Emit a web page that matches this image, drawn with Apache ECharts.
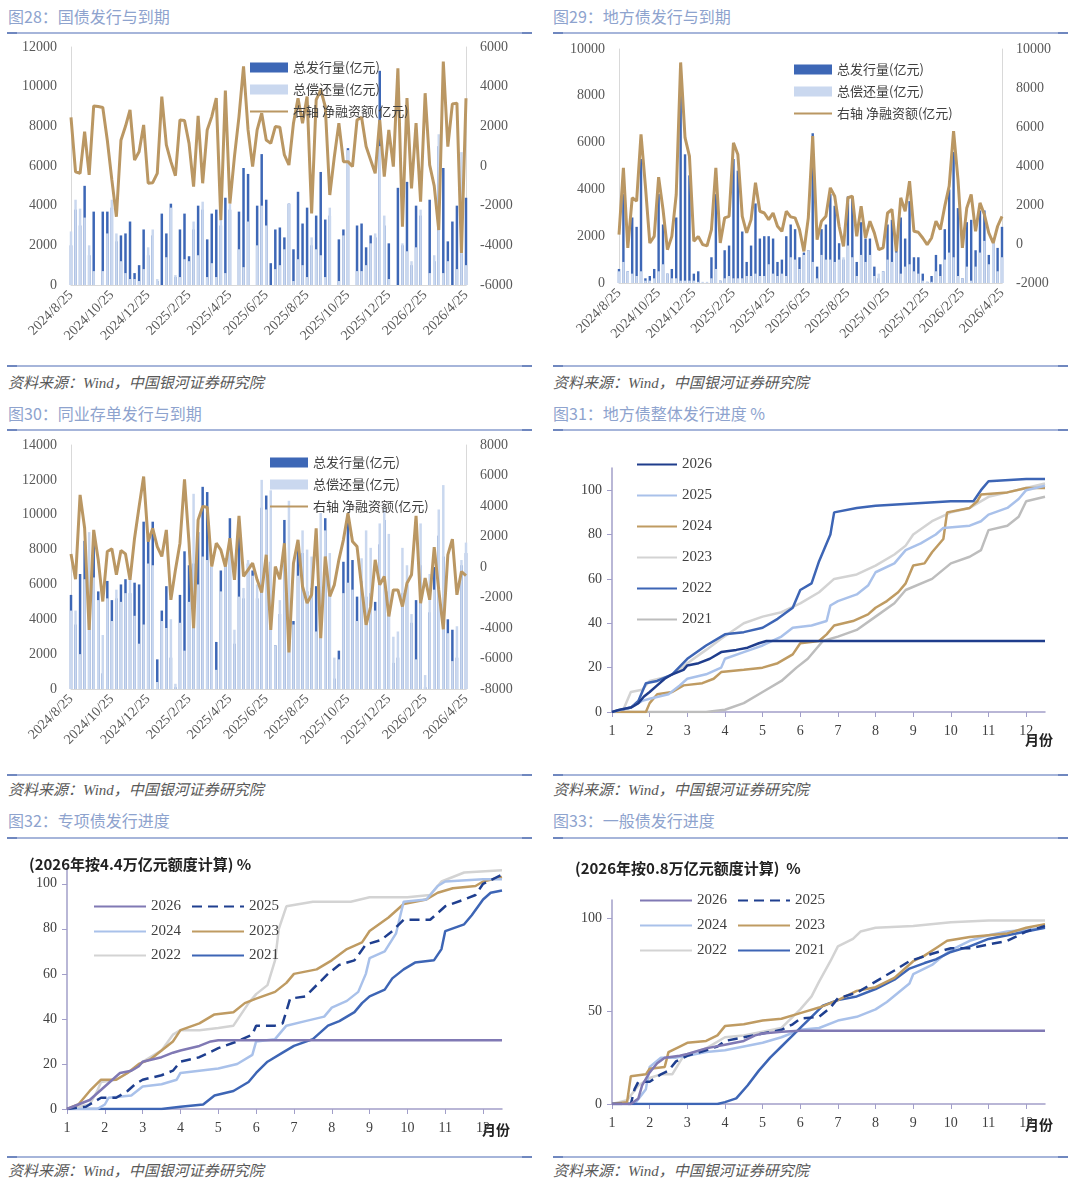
<!DOCTYPE html>
<html>
<head>
<meta charset="utf-8">
<script src="https://cdn.jsdelivr.net/npm/echarts@6/dist/echarts.min.js"></script>
<style>
body { margin: 0; width: 1080px; height: 1186px; background: #fff; position: relative; overflow: hidden; font-family: "Noto Sans CJK SC", sans-serif; }
.chart { position: absolute; left: 0; top: 0; width: 1080px; height: 1186px; }
.title { position: absolute; font-size: 16px; line-height: 20px; color: #8EA3CE; white-space: nowrap; }
.src { position: absolute; font-size: 15px; line-height: 18px; color: #595959; font-style: italic; white-space: nowrap; font-family: "Liberation Serif", "Noto Sans CJK SC", serif; }
.rule { position: absolute; height: 2px; background: #A6B5DA; }
.rule:before, .rule:after { content: ""; position: absolute; top: 0; width: 10px; height: 2px; background: #6F87BF; }
.rule:before { left: 0; }
.rule:after { right: 0; }
</style>
</head>
<body>
<div class="title" style="left:8px;top:6px">图28：国债发行与到期</div>
<div class="title" style="left:553px;top:6px">图29：地方债发行与到期</div>
<div class="rule" style="left:7px;top:32px;width:525px"></div>
<div class="rule" style="left:553px;top:32px;width:515px"></div>
<div class="rule" style="left:7px;top:365px;width:525px"></div>
<div class="rule" style="left:553px;top:365px;width:515px"></div>
<div class="src" style="left:8px;top:374px">资料来源：Wind，中国银河证券研究院</div>
<div class="src" style="left:553px;top:374px">资料来源：Wind，中国银河证券研究院</div>
<div class="title" style="left:8px;top:403px">图30：同业存单发行与到期</div>
<div class="title" style="left:553px;top:403px">图31：地方债整体发行进度 %</div>
<div class="rule" style="left:7px;top:429px;width:525px"></div>
<div class="rule" style="left:553px;top:429px;width:515px"></div>
<div class="rule" style="left:7px;top:774px;width:525px"></div>
<div class="rule" style="left:553px;top:774px;width:515px"></div>
<div class="src" style="left:8px;top:781px">资料来源：Wind，中国银河证券研究院</div>
<div class="src" style="left:553px;top:781px">资料来源：Wind，中国银河证券研究院</div>
<div class="title" style="left:8px;top:810px">图32：专项债发行进度</div>
<div class="title" style="left:553px;top:810px">图33：一般债发行进度</div>
<div class="rule" style="left:7px;top:837px;width:525px"></div>
<div class="rule" style="left:553px;top:837px;width:515px"></div>
<div class="rule" style="left:7px;top:1156px;width:525px"></div>
<div class="rule" style="left:553px;top:1156px;width:515px"></div>
<div class="src" style="left:8px;top:1162px">资料来源：Wind，中国银河证券研究院</div>
<div class="src" style="left:553px;top:1162px">资料来源：Wind，中国银河证券研究院</div>

<div id="c28" class="chart"></div>
<div id="c29" class="chart"></div>
<div id="c30" class="chart"></div>
<div id="c31" class="chart"></div>
<div id="c32" class="chart"></div>
<div id="c33" class="chart"></div>
<script>
// 周度日期（横轴类目），2024/8/25 起共 88 周
const weeks = []
const startDay = new Date(2024, 7, 25)
for (let i = 0; i < 88; i++) {
  const d = new Date(startDay.getTime() + i * 7 * 864e5)
  weeks.push(d.getFullYear() + '/' + (d.getMonth() + 1) + '/' + d.getDate())
}
const tickLabels = ['2024/8/25', '2024/10/25', '2024/12/25', '2025/2/25', '2025/4/25', '2025/6/25',
  '2025/8/25', '2025/10/25', '2025/12/25', '2026/2/25', '2026/4/25']
const tickIdx = tickLabels.map(s => {
  const p = s.split('/')
  const d = new Date(+p[0], +p[1] - 1, +p[2])
  return Math.round((d - startDay) / (7 * 864e5))
})

// 图28 国债
const issue28 = [2000, 3800, 3000, 5000, 1500, 3700, 0, 3700, 3700, 3900,
  2200, 2500, 2600, 3200, 600, 1000, 2800, 1500, 2500, 200,
  3600, 2600, 4100, 400, 2800, 3600, 1450, 2800, 4000, 3800,
  2300, 3600, 3800, 3000, 4400, 3800, 0, 3700, 5900, 5600,
  0, 4000, 6600, 4300, 1100, 2800, 2900, 2400, 4100, 1800,
  4700, 3100, 3900, 2000, 3500, 5700, 3300, 3500, 0, 2300,
  2800, 6900, 0, 3000, 3100, 1900, 2500, 2400, 10800, 3000,
  2100, 0, 4900, 2000, 5200, 1000, 4000, 3500, 0, 4300,
  1200, 7000, 5900, 2200, 3200, 4000, 1600, 4400]
const repay28 = [2700, 4300, 3850, 3400, 2000, 700, 0, 700, 2600, 4300,
  2600, 1200, 600, 300, 300, 200, 800, 1900, 2800, 300,
  0, 1400, 3900, 500, 400, 1300, 1200, 3200, 1500, 4200,
  400, 1100, 400, 3300, 600, 4100, 0, 1800, 900, 3200,
  0, 2000, 4000, 3000, 0, 800, 1000, 1800, 4100, 200,
  1300, 1000, 400, 2400, 1800, 1500, 400, 3900, 0, 200,
  2500, 6800, 0, 700, 700, 1000, 2100, 2600, 7000, 3500,
  300, 0, 0, 2100, 1700, 1200, 1900, 3800, 0, 600,
  1500, 7600, 600, 1200, 0, 800, 6700, 1000]
const net28 = [2450, -290, -370, 1730, -450, 3030, 3000, 2950, 1300, -700,
  -2560, 1300, 2000, 2830, 300, 720, 2070, -870, -840, -370,
  3500, 1060, 220, -490, 2320, 2290, 1140, -1040, 2530, -870,
  1820, 2490, 3420, -2730, 3800, -1890, 470, 2490, 5020, 1820,
  -30, 1820, 2660, 1310, 1140, 1990, 1950, 560, 50, 2160,
  3420, 2160, 3500, -2390, 3330, 3840, 3000, -1460, 470, 2160,
  220, 220, -30, 2320, 2460, 980, 300, -370, 2320, -540,
  1820, -30, 4930, -3060, 3420, -1130, 2160, -1800, 3670, 50,
  -1000, -3230, 5270, 980, 3130, 3170, -4380, 3420]

// 图29 地方债
const issue29 = [600, 3800, 500, 2800, 2400, 5300, 200, 300, 600, 3800,
  2500, 400, 600, 2800, 8000, 5500, 4600, 400, 500, 0,
  0, 1100, 3800, 100, 1400, 1600, 5300, 4800, 2200, 900,
  1600, 3400, 1900, 2000, 2000, 1900, 900, 1000, 2000, 2500,
  2300, 1100, 1300, 1400, 6400, 700, 2300, 2500, 3800, 3300,
  1700, 1000, 3700, 3600, 900, 2600, 1900, 1900, 700, 200,
  500, 2500, 2700, 1400, 2800, 1900, 3500, 1100, 1100, 400,
  50, 300, 1200, 800, 2300, 4000, 5600, 3200, 200, 2600,
  2700, 1400, 3100, 3100, 1200, 1700, 1500, 2400]
const repay29 = [500, 900, 500, 400, 300, 500, 100, 100, 200, 500,
  800, 400, 200, 200, 100, 100, 100, 100, 50, 50,
  50, 200, 600, 100, 200, 300, 200, 200, 200, 300,
  300, 400, 300, 300, 800, 400, 300, 400, 300, 1100,
  1000, 600, 1200, 1400, 900, 200, 1200, 1000, 1000, 900,
  1000, 1100, 1600, 1100, 300, 1200, 900, 1200, 300, 400,
  500, 1000, 900, 1300, 400, 700, 800, 500, 400, 100,
  50, 50, 500, 300, 1000, 1300, 1100, 300, 200, 700,
  100, 700, 1300, 1800, 800, 1800, 500, 1100]
const net29 = [480, 3910, -200, 2370, 2200, 5620, 2970, 50, 390, 3430,
  1770, -290, 390, 2540, 9310, 5450, 4510, 140, 390, -30,
  -90, 740, 3910, 50, 1340, 1420, 5190, 4590, 1420, 570,
  1250, 3140, 1680, 1590, 1250, 1590, 910, 650, 1680, 1390,
  1340, 740, -380, 1340, 5540, 220, 1170, 1420, 2880, 2450,
  910, -120, 2370, 2450, 390, 1940, 310, 1170, 570, -290,
  -200, 1590, 1770, -380, 2370, 1680, 3220, 650, 600, 310,
  -30, 310, 1170, 740, 1940, 2970, 5790, 3310, -200, 1850,
  2540, 650, 2110, 1510, 570, 50, 910, 1420]

// 图30 同业存单
const issue30 = [5400, 3700, 6600, 8500, 4900, 8800, 5600, 900, 6200, 5100,
  5200, 6000, 6300, 5500, 6100, 6000, 9600, 8800, 9600, 1700,
  4500, 5900, 1800, 100, 5400, 7900, 7100, 7200, 9000, 11600,
  11300, 7000, 2700, 6800, 7500, 9800, 2600, 8800, 5200, 7200,
  6800, 5200, 10400, 11100, 7300, 2500, 4300, 9700, 5200, 3900,
  8300, 7800, 5600, 5800, 5900, 5500, 9800, 5900, 600, 2200,
  7300, 9600, 7400, 5300, 6200, 5300, 5500, 5000, 8300, 9700,
  5600, 1500, 1800, 5500, 6000, 3800, 5100, 7100, 100, 4400,
  7000, 8800, 7600, 4000, 3400, 1800, 7100, 7800]
const repay30 = [4500, 4500, 2000, 6300, 9000, 6400, 5100, 3100, 5200, 3900,
  5700, 5000, 5500, 6300, 4200, 2600, 3700, 7200, 7100, 400,
  3900, 3500, 4000, 300, 3800, 2200, 5000, 11200, 6000, 7600,
  7400, 7000, 1100, 5600, 7500, 8000, 3400, 5300, 5800, 7400,
  6500, 6000, 12000, 10300, 11400, 2500, 5100, 8100, 10800, 3700,
  6500, 9100, 8000, 7600, 3300, 10100, 9100, 7800, 1800, 1700,
  5500, 6100, 5700, 3900, 7500, 9100, 8100, 4500, 9500, 10300,
  8900, 3000, 3300, 8100, 7100, 4300, 1700, 9500, 800, 6600,
  5700, 10300, 11700, 3200, 1600, 3600, 7400, 8400]
const net30 = [850, -800, 4730, 2560, -4120, 2430, 470, -2260, 1020, 1190,
  -510, 1080, 860, -840, 1890, 3960, 5930, 1670, 2540, 1340,
  690, 2430, -2150, -190, 1560, 5750, 1560, -4010, 3090, 3960,
  3920, 30, 1560, 1120, 30, 1890, -840, 3350, -620, -190,
  250, -840, -1670, 800, -4120, 30, -800, 1560, -5600, 250,
  1780, -1280, -2370, -1820, 2540, -4660, 690, -1930, -1170, 470,
  1780, 3530, 1670, 1340, -1280, -3790, -2590, 470, -1170, -620,
  -3240, -1500, -1500, -2590, -1060, -510, 3350, -2370, -730, -2150,
  1300, -1500, -4080, 800, 1820, -1820, -300, -560]

// 图31 地方债整体发行进度（月份, %）
const p31_2026 = [[1, 0], [1.2, 1], [1.5, 2], [1.7, 4], [1.85, 7], [2, 9], [2.2, 12], [2.4, 15], [2.6, 17], [2.9, 19], [3, 21], [3.3, 22], [3.6, 24], [3.9, 27], [4.3, 28], [4.6, 29], [4.9, 31], [5.1, 32], [12.5, 32]]
const p31_2025 = [[1, 0], [1.5, 2], [1.8, 5], [2, 6], [2.5, 8], [2.8, 12], [3, 15], [3.5, 17], [3.9, 20], [4, 24], [4.5, 27], [5, 30], [5.5, 34], [5.8, 38], [6.3, 39], [6.7, 41], [6.8, 48], [7, 50], [7.5, 53], [7.8, 57], [8, 63], [8.5, 67], [8.8, 73], [9.2, 76], [9.6, 80], [9.8, 83], [10.5, 84], [10.8, 86], [11, 89], [11.5, 92], [11.8, 96], [12, 100], [12.5, 102]]
const p31_2024 = [[1, 0], [1.9, 0], [2, 4], [2.2, 8], [2.6, 9], [2.9, 12], [3.4, 13], [3.7, 15], [3.9, 18], [4.5, 19], [5, 20], [5.4, 22], [5.8, 26], [6, 31], [6.5, 32], [6.7, 35], [6.9, 39], [7.4, 41], [7.8, 44], [8, 47], [8.3, 50], [8.6, 54], [8.8, 58], [9, 66], [9.3, 67], [9.5, 72], [9.8, 78], [9.9, 90], [10.5, 92], [10.7, 95], [10.8, 98], [11.5, 99], [12, 101], [12.5, 101]]
const p31_2023 = [[1, 0], [1.3, 1], [1.5, 9], [1.8, 10], [2, 14], [2.5, 16], [2.8, 19], [3, 22], [3.5, 28], [3.9, 33], [4.5, 40], [5, 43], [5.5, 45], [6, 49], [6.5, 54], [6.9, 60], [7.5, 62], [8, 66], [8.5, 71], [8.8, 75], [9, 80], [9.5, 86], [10, 90], [10.5, 92], [11, 97], [11.5, 99], [12, 101], [12.5, 103]]
const p31_2022 = [[1, 0], [1.5, 2], [1.7, 5], [1.9, 13], [2.2, 14], [2.6, 17], [3, 24], [3.5, 30], [4, 35], [4.5, 36], [5, 38], [5.4, 42], [5.8, 47], [6, 55], [6.3, 58], [6.5, 68], [6.8, 80], [6.9, 90], [7.5, 92], [8, 93], [9, 94], [10, 95], [10.6, 95], [10.8, 100], [11, 104], [12, 105], [12.5, 105]]
const p31_2021 = [[1, 0], [3.5, 0], [4, 1], [4.5, 4], [5, 9], [5.5, 14], [5.9, 20], [6.2, 24], [6.6, 32], [7, 34], [7.5, 37], [8, 43], [8.5, 49], [8.8, 55], [9.5, 60], [10, 67], [10.5, 70], [10.8, 73], [11, 82], [11.5, 84], [11.8, 88], [12, 95], [12.5, 97]]

// 图32 专项债发行进度
const p32_2026 = [[1, 0], [1.3, 2], [1.6, 4], [1.8, 7], [2, 10], [2.2, 13], [2.4, 16], [2.7, 17], [2.9, 19], [3, 21], [3.5, 23], [3.8, 25], [4, 26], [4.5, 28], [4.8, 30], [5, 30.5], [12.5, 30.5]]
const p32_2025 = [[1, 0], [1.5, 1], [1.7, 3], [1.9, 5], [2.3, 5], [2.6, 8], [2.8, 11], [3, 13], [3.5, 15], [3.8, 17], [4, 21], [4.5, 23], [5, 27], [5.5, 30], [5.9, 33], [6, 37], [6.5, 37], [6.7, 38], [6.9, 49], [7.3, 50], [7.6, 55], [7.9, 60], [8.2, 64], [8.6, 66], [8.9, 73], [9.3, 75], [9.6, 79], [9.9, 84], [10.6, 84], [11, 90], [11.5, 93], [11.8, 95], [12, 100], [12.5, 104]]
const p32_2024 = [[1, 0], [1.8, 0], [2, 2], [2.1, 5], [2.7, 6], [3, 10], [3.5, 11], [3.9, 13], [4, 16], [4.5, 17], [5, 18], [5.5, 20], [5.9, 24], [6, 30], [6.5, 31], [6.8, 37], [7.3, 39], [7.8, 41], [8, 45], [8.4, 48], [8.7, 52], [8.9, 60], [9, 67], [9.4, 70], [9.7, 78], [9.9, 92], [10.5, 93], [10.8, 99], [11, 101], [12, 102], [12.5, 102]]
const p32_2023 = [[1, 0], [1.3, 2], [1.6, 8], [1.9, 13], [2.3, 13], [2.6, 16], [2.9, 20], [3.2, 22], [3.5, 26], [3.8, 30], [4, 35], [4.5, 38], [4.9, 42], [5.4, 43], [5.7, 47], [6, 49], [6.5, 52], [6.8, 56], [7, 60], [7.6, 62], [8, 66], [8.4, 71], [8.8, 74], [9, 79], [9.5, 85], [9.9, 91], [10.5, 93], [10.8, 96], [11.2, 98], [11.8, 99], [12, 101], [12.5, 103]]
const p32_2022 = [[1, 0], [1.6, 2], [1.8, 8], [1.9, 12], [2.3, 13], [2.8, 18], [3, 21], [3.5, 26], [3.8, 33], [4, 35], [4.5, 35], [5, 36], [5.4, 37], [5.8, 47], [6, 51], [6.3, 55], [6.5, 66], [6.6, 80], [6.8, 90], [7.5, 92], [8.5, 92], [9, 94], [10, 94], [10.6, 95], [10.9, 101], [11.5, 105], [12.5, 106]]
const p32_2021 = [[1, 0], [3.5, 0], [4, 1], [4.6, 2], [4.9, 6], [5.4, 8], [5.8, 12], [6, 16], [6.3, 21], [6.7, 25], [7, 28], [7.5, 31], [7.9, 37], [8.2, 39], [8.6, 43], [8.8, 47], [9, 50], [9.4, 53], [9.6, 58], [9.9, 62], [10.2, 65], [10.7, 66], [10.9, 71], [11, 79], [11.5, 82], [11.7, 86], [12, 93], [12.2, 96], [12.5, 97]]

// 图33 一般债发行进度
const p33_2026 = [[1, 0], [1.5, 0], [1.7, 3], [1.8, 10], [2, 17], [2.2, 22], [2.4, 25], [2.8, 26], [3, 27], [3.5, 30], [4, 32], [4.5, 34], [4.8, 37], [5, 38], [5.5, 39], [6, 39.5], [12.5, 39.5]]
const p33_2025 = [[1, 0], [1.5, 0], [1.6, 8], [1.7, 12], [2, 12], [2.3, 16], [2.5, 18], [2.7, 23], [3, 26], [3.5, 29], [3.8, 31], [4, 34], [4.5, 36], [5, 38], [5.5, 40], [5.8, 43], [6, 46], [6.5, 47], [6.8, 52], [7, 57], [7.5, 60], [8, 66], [8.5, 72], [8.9, 77], [9.5, 81], [10, 84], [10.5, 84], [11, 86], [11.5, 88], [11.8, 91], [12, 93], [12.5, 96]]
const p33_2024 = [[1, 0], [1.6, 0], [1.9, 8], [2, 20], [2.3, 25], [2.7, 25], [3, 26], [3.5, 28], [4, 29], [4.5, 31], [5, 33], [5.5, 36], [6, 40], [6.5, 41], [7, 45], [7.5, 47], [8, 51], [8.3, 55], [8.6, 60], [8.9, 65], [9, 70], [9.5, 75], [9.8, 80], [10, 83], [10.5, 88], [11, 91], [11.5, 93], [12, 94], [12.5, 95]]
const p33_2023 = [[1, 0], [1.4, 1], [1.5, 15], [1.9, 16], [2, 19], [2.4, 20], [2.5, 28], [2.8, 31], [3, 33], [3.5, 34], [3.8, 37], [4, 42], [4.5, 43], [5, 45], [5.5, 46], [6, 49], [6.5, 52], [7, 56], [7.5, 61], [8, 63], [8.5, 68], [9, 77], [9.3, 80], [9.6, 84], [9.9, 88], [10.5, 90], [11, 91], [11.5, 92], [12, 95], [12.5, 97]]
const p33_2022 = [[1, 0], [1.4, 2], [1.7, 10], [2, 14], [2.3, 16], [2.6, 16], [2.9, 26], [3.5, 30], [4, 36], [4.5, 37], [5, 39], [5.5, 41], [5.8, 47], [6, 51], [6.3, 58], [6.5, 66], [6.8, 77], [7, 85], [7.4, 89], [7.6, 93], [8, 95], [9, 96], [10, 98], [11, 99], [12, 99], [12.5, 99]]
const p33_2021 = [[1, 0], [3.8, 0], [4, 1], [4.3, 3], [4.6, 10], [4.9, 18], [5.2, 25], [5.5, 31], [5.8, 37], [6, 41], [6.3, 47], [6.6, 53], [7, 56], [7.5, 58], [8, 62], [8.5, 67], [8.9, 73], [9.3, 76], [9.6, 78], [10, 82], [10.5, 85], [11, 89], [11.5, 91], [12, 93], [12.5, 95]]

const barDark = '#3D67B6'
const barLight = '#CAD8EF'
const netColor = '#BA9763'
const axisGray = '#D9D9D9'
const axisPurple = '#A29FC9'
const numFont = '"Liberation Serif", "DejaVu Serif", serif'
const cjkFont = '"Noto Sans CJK SC", sans-serif'
const plain = v => String(v)

function barOption (box, yL, yR, issue, repay, net, lg) {
  const yLabel = {fontSize: 14, color: '#595959', fontFamily: numFont, margin: 14, formatter: plain}
  return {
    animation: false,
    grid: {left: box[0], top: box[1], width: box[2], height: box[3], outerBoundsMode: 'none'},
    legend: {
      orient: 'vertical', left: lg[0], top: lg[1], itemWidth: 38, itemHeight: 10, itemGap: 9,
      textStyle: {fontSize: 13, color: '#404040', fontFamily: cjkFont},
      data: [{name: '总发行量(亿元)', icon: 'rect'}, {name: '总偿还量(亿元)', icon: 'rect'}, '右轴 净融资额(亿元)']
    },
    xAxis: {
      type: 'category', data: weeks, boundaryGap: false,
      axisLine: {lineStyle: {color: axisGray}}, axisTick: {show: false},
      axisLabel: {
        interval: (i) => tickIdx.indexOf(i) >= 0,
        formatter: (v, i) => tickLabels[tickIdx.indexOf(i)],
        rotate: 45, fontSize: 14, color: '#595959', fontFamily: numFont, margin: 8, hideOverlap: false
      }
    },
    yAxis: [
      {type: 'value', min: yL[0], max: yL[1], interval: yL[2], axisLine: {show: true, lineStyle: {color: axisGray}},
        axisTick: {show: false}, splitLine: {show: false}, axisLabel: yLabel},
      {type: 'value', min: yR[0], max: yR[1], interval: yR[2], position: 'right', axisLine: {show: true, lineStyle: {color: axisGray}},
        axisTick: {show: false}, splitLine: {show: false}, axisLabel: yLabel}
    ],
    series: [
      {name: '总发行量(亿元)', type: 'bar', data: issue, barWidth: '55%', barGap: '-100%', itemStyle: {color: barDark}},
      {name: '总偿还量(亿元)', type: 'bar', data: repay, barWidth: '55%', barGap: '-100%', itemStyle: {color: barLight}},
      {name: '右轴 净融资额(亿元)', type: 'line', yAxisIndex: 1, data: net, symbol: 'none', z: 3,
        lineStyle: {width: 3, color: netColor}, itemStyle: {color: netColor, opacity: 0}}
    ]
  }
}

function progOption (box, yMax, yInt, lines, legends, title, namePad) {
  const lbl = {fontSize: 14, color: '#404040', fontFamily: numFont, formatter: plain}
  return {
    animation: false,
    title: title ? {text: title[0], left: title[1], top: title[2], textStyle: {fontSize: 15, fontWeight: 'bold', color: '#222', fontFamily: cjkFont}} : undefined,
    grid: {left: box[0], top: box[1], width: box[2], height: box[3], outerBoundsMode: 'none'},
    legend: legends.map(l => ({
      orient: l.orient || 'horizontal', left: l.left, top: l.top, itemWidth: l.w, itemHeight: 14, itemGap: l.gap,
      textStyle: {fontSize: 15, color: '#404040', fontFamily: numFont}, data: l.data
    })),
    xAxis: {
      type: 'value', min: 1, max: 12.5, interval: 1,
      axisLine: {show: true, lineStyle: {color: axisPurple, width: 1.5}},
      axisTick: {show: true, length: 5, lineStyle: {color: axisPurple}},
      splitLine: {show: false},
      axisLabel: Object.assign({showMaxLabel: false, margin: 12}, lbl),
      name: '月份', nameLocation: 'end', nameGap: -20, nameMoveOverlap: false,
      nameTextStyle: {fontWeight: 'bold', fontSize: 14, color: '#222', fontFamily: cjkFont, align: 'left', verticalAlign: 'top', padding: [namePad, 0, 0, 0]}
    },
    yAxis: {
      type: 'value', min: 0, max: yMax, interval: yInt,
      axisLine: {show: true, lineStyle: {color: axisPurple, width: 1.5}},
      axisTick: {show: true, length: 5, lineStyle: {color: axisPurple}},
      splitLine: {show: false},
      axisLabel: Object.assign({showMaxLabel: false, margin: 10}, lbl)
    },
    series: lines.map(l => ({
      name: l.name, type: 'line', data: l.data, symbol: 'none', z: l.z,
      lineStyle: {color: l.color, width: 2.5, type: l.dash ? [10, 6] : 'solid'},
      itemStyle: {color: l.color, opacity: 0}
    }))
  }
}

echarts.init(document.getElementById('c28')).setOption(
  barOption([71, 47, 395, 238], [0, 12000, 2000], [-6000, 6000, 2000], issue28, repay28, net28, [244, 56]))
echarts.init(document.getElementById('c29')).setOption(
  barOption([619, 49, 383, 234], [0, 10000, 2000], [-2000, 10000, 2000], issue29, repay29, net29, [788, 58]))
echarts.init(document.getElementById('c30')).setOption(
  barOption([71, 445, 395, 244], [0, 14000, 2000], [-8000, 8000, 2000], issue30, repay30, net30, [264, 451]))

echarts.init(document.getElementById('c31')).setOption(progOption(
  [612, 468, 433, 244], 110, 20,
  [
    {name: '2021', data: p31_2021, color: '#BDBDBD', z: 2},
    {name: '2022', data: p31_2022, color: '#3D65B5', z: 3},
    {name: '2023', data: p31_2023, color: '#D3D3D3', z: 2},
    {name: '2024', data: p31_2024, color: '#BF9B62', z: 3},
    {name: '2025', data: p31_2025, color: '#A9C1EA', z: 3},
    {name: '2026', data: p31_2026, color: '#1F3D8C', z: 4}
  ],
  [{orient: 'vertical', left: 631, top: 452, w: 40, gap: 16, data: ['2026', '2025', '2024', '2023', '2022', '2021']}],
  null, 21
))

echarts.init(document.getElementById('c32')).setOption(progOption(
  [67, 868, 435, 241], 107, 20,
  [
    {name: '2021', data: p32_2021, color: '#3D65B5', z: 2},
    {name: '2022', data: p32_2022, color: '#D3D3D3', z: 2},
    {name: '2023', data: p32_2023, color: '#BF9B62', z: 3},
    {name: '2024', data: p32_2024, color: '#A9C1EA', z: 3},
    {name: '2025', data: p32_2025, color: '#1F3F8F', z: 4, dash: true},
    {name: '2026', data: p32_2026, color: '#8079B4', z: 4}
  ],
  [
    {left: 88, top: 894, w: 52, gap: 10, data: ['2026', '2025']},
    {left: 88, top: 919, w: 52, gap: 10, data: ['2024', '2023']},
    {left: 88, top: 943, w: 52, gap: 10, data: ['2022', '2021']}
  ],
  ['(2026年按4.4万亿元额度计算) %', 24, 852], 14
))

echarts.init(document.getElementById('c33')).setOption(progOption(
  [612, 900, 433, 204], 110, 50,
  [
    {name: '2021', data: p33_2021, color: '#3D65B5', z: 3},
    {name: '2022', data: p33_2022, color: '#D3D3D3', z: 2},
    {name: '2023', data: p33_2023, color: '#BF9B62', z: 3},
    {name: '2024', data: p33_2024, color: '#A9C1EA', z: 2},
    {name: '2025', data: p33_2025, color: '#1F3F8F', z: 4, dash: true},
    {name: '2026', data: p33_2026, color: '#8079B4', z: 4}
  ],
  [
    {left: 634, top: 888, w: 52, gap: 10, data: ['2026', '2025']},
    {left: 634, top: 913, w: 52, gap: 10, data: ['2024', '2023']},
    {left: 634, top: 938, w: 52, gap: 10, data: ['2022', '2021']}
  ],
  ['(2026年按0.8万亿元额度计算)  %', 570, 856], 14
))
</script>
</body>
</html>
